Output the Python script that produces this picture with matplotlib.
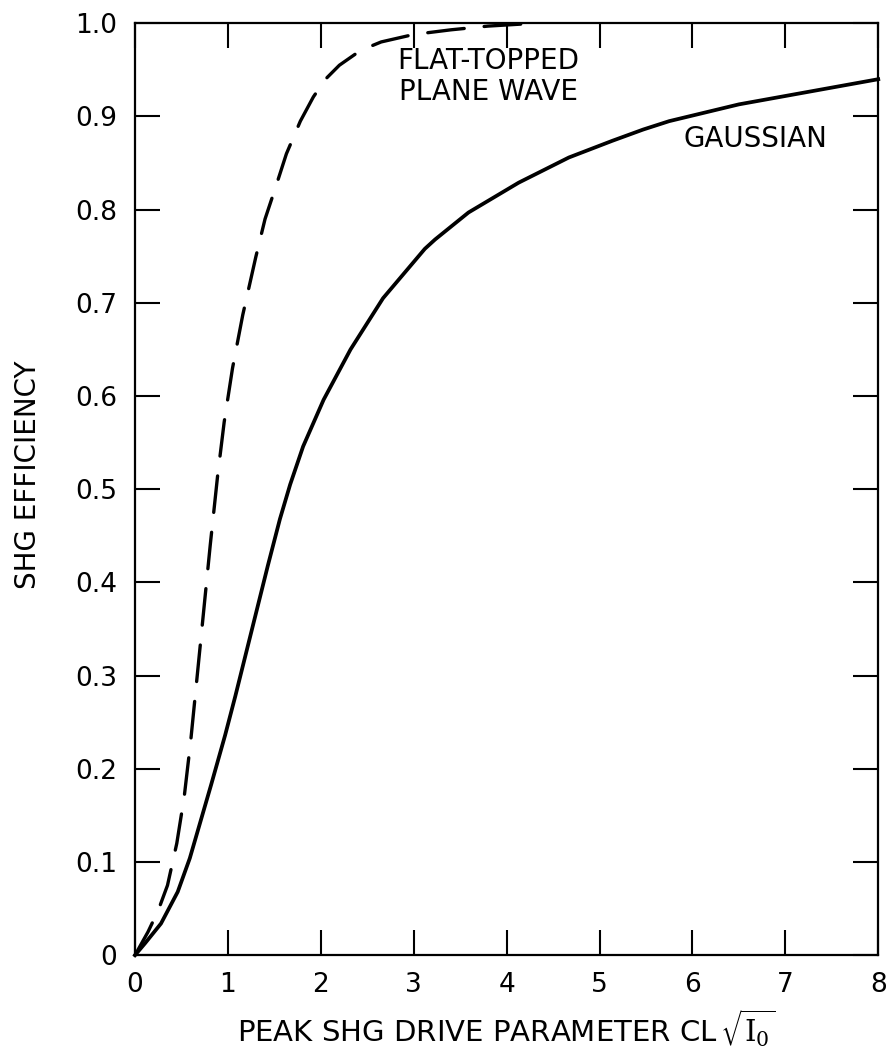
import numpy as np
import matplotlib.pyplot as plt

plt.rcParams['font.family'] = 'DejaVu Sans'
plt.rcParams['mathtext.fontset'] = 'dejavuserif'

# plane wave (flat-topped) curve
flat_x = [0, 0.14, 0.25, 0.35, 0.45, 0.53, 0.60, 0.67, 0.74, 0.81, 0.89, 0.96,
          1.05, 1.16, 1.30, 1.40, 1.52, 1.63, 1.78, 1.92, 2.05, 2.20, 2.43, 2.65,
          3.00, 3.40, 3.80, 4.30]
flat_y = [0, 0.025, 0.048, 0.075, 0.12, 0.17, 0.23, 0.30, 0.37, 0.44, 0.515, 0.572,
          0.630, 0.687, 0.749, 0.790, 0.826, 0.860, 0.895, 0.921, 0.940, 0.955, 0.971, 0.980,
          0.988, 0.993, 0.997, 1.0]

# gaussian beam curve
gauss_x = [0, 0.11, 0.28, 0.46, 0.59, 0.82, 0.97, 1.08, 1.30, 1.43, 1.56, 1.67,
           1.81, 2.03, 2.32, 2.67, 3.12, 3.23, 3.59, 4.13, 4.67, 5.14, 5.47, 5.75,
           6.5, 7.0, 7.5, 8.0]
gauss_y = [0, 0.013, 0.034, 0.068, 0.104, 0.183, 0.236, 0.278, 0.366, 0.418, 0.468, 0.505,
           0.546, 0.596, 0.650, 0.705, 0.758, 0.768, 0.797, 0.829, 0.856, 0.874, 0.886, 0.895,
           0.913, 0.922, 0.931, 0.940]

xticks = np.arange(0, 9)
yticks = np.round(np.arange(0, 1.01, 0.1), 1)
ytick_labels = ['0'] + ['%.1f' % v for v in yticks[1:]]

fig = plt.figure(figsize=(8.88, 10.59), dpi=100)
ax = fig.add_axes([0.152, 0.098, 0.837, 0.880])

ax.plot(flat_x, flat_y, color='black', linewidth=2.4, dashes=(11, 6),
        solid_capstyle='round', dash_capstyle='round', clip_on=False)
ax.plot(gauss_x, gauss_y, color='black', linewidth=2.7, clip_on=False,
        solid_joinstyle='round')

ax.text(3.8, 0.943, 'FLAT-TOPPED\nPLANE WAVE', ha='center', va='center',
        fontsize=20, linespacing=1.15)
ax.text(6.68, 0.876, 'GAUSSIAN', ha='center', va='center', fontsize=20)

ax.set_xlim(0, 8)
ax.set_ylim(0, 1.0)
ax.set_xticks(xticks)
ax.set_yticks(yticks)
ax.set_yticklabels(ytick_labels)

ax.tick_params(direction='in', length=18, width=1.5, top=True, right=True,
               labelsize=19)
ax.tick_params(axis='x', pad=12)
ax.tick_params(axis='y', pad=13)
for s in ax.spines.values():
    s.set_linewidth(1.6)

ax.set_xlabel(r'PEAK SHG DRIVE PARAMETER CL$\,\sqrt{\mathrm{I}_0}$', fontsize=21, labelpad=7)
ax.set_ylabel('SHG EFFICIENCY', fontsize=20)
ax.yaxis.set_label_coords(-0.125, 0.516)

fig.savefig('out.png', dpi=100)
